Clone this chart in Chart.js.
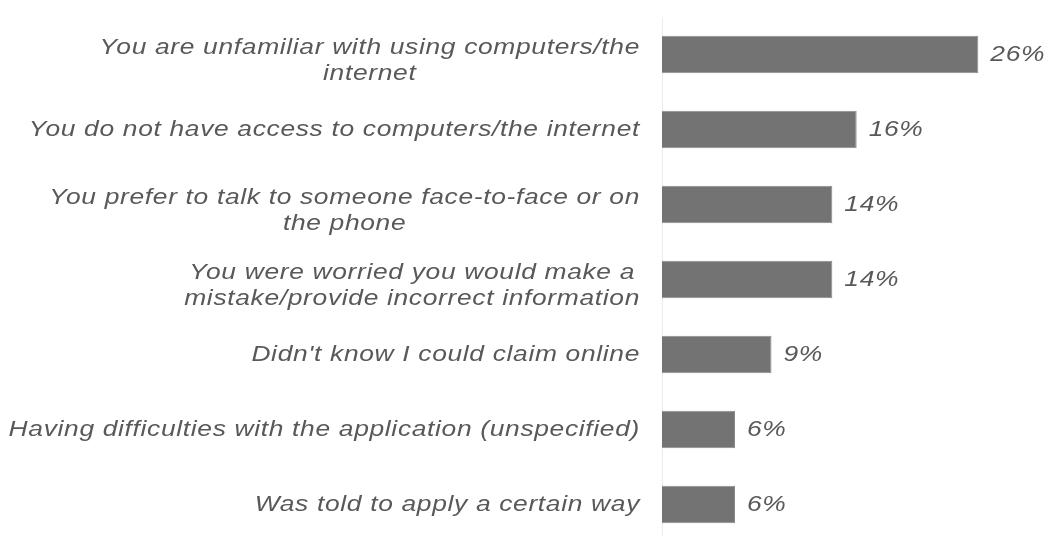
<!DOCTYPE html>
<html>
<head>
<meta charset="utf-8">
<script src="https://cdn.jsdelivr.net/npm/chart.js@4"></script>
<style>
  html, body { margin: 0; padding: 0; background: #fff; overflow: hidden; }
  #wrap { width: 1048px; height: 542px; }
</style>
</head>
<body>
<div id="wrap"><canvas id="chart" width="1048" height="542"></canvas></div>
<script>
// Категорії (рядки підписів) та значення у відсотках
const categories = [
    ['You are unfamiliar with using computers/the', 'internet'],
    ['You do not have access to computers/the internet'],
    ['You prefer to talk to someone face-to-face or on', 'the phone'],
    ['You were worried you would make a', 'mistake/provide incorrect information'],
    ["Didn't know I could claim online"],
    ['Having difficulties with the application (unspecified)'],
    ['Was told to apply a certain way']
];
const values = [26, 16, 14, 14, 9, 6, 6];
const valueLabels = ['26%', '16%', '14%', '14%', '9%', '6%', '6%'];

const TEXT_COLOR = '#595959';
const FONT = 'italic 22px "Liberation Sans", Arial, sans-serif';
const SPACING = '0.55px';
const STRETCH = 1.2;

// Малює текст з горизонтальним розтягуванням
function drawStretched(ctx, text, x, y, align) {
    const w = ctx.measureText(text).width * STRETCH;
    let left = x;
    if (align === 'center') left = x - w / 2;
    if (align === 'right') left = x - w;
    ctx.save();
    ctx.translate(left, y);
    ctx.scale(STRETCH, 1);
    ctx.textAlign = 'left';
    ctx.fillText(text, 0, 0);
    ctx.restore();
}

// Підписи категорій ліворуч від осі
const categoryLabels = {
    id: 'categoryLabels',
    afterDraw(chart) {
        const ctx = chart.ctx;
        const y = chart.scales.y;
        const right = chart.chartArea.left - 22;
        ctx.save();
        ctx.font = FONT;
        ctx.letterSpacing = SPACING;
        ctx.fillStyle = TEXT_COLOR;
        ctx.textBaseline = 'middle';
        categories.forEach((lines, i) => {
            const widths = lines.map(l => ctx.measureText(l).width * STRETCH);
            const blockW = Math.max(...widths);
            const cx = right - blockW / 2;
            const cy = y.getPixelForValue(i) + (lines.length > 1 ? 6 : 0);
            const lh = 26;
            lines.forEach((l, j) => {
                drawStretched(ctx, l, cx, cy + (j - (lines.length - 1) / 2) * lh, 'center');
            });
        });
        ctx.restore();
    }
};

// Значення біля кінця кожного стовпця
const valueTags = {
    id: 'valueTags',
    afterDatasetsDraw(chart) {
        const ctx = chart.ctx;
        const meta = chart.getDatasetMeta(0);
        ctx.save();
        ctx.font = FONT;
        ctx.letterSpacing = SPACING;
        ctx.fillStyle = TEXT_COLOR;
        ctx.textBaseline = 'middle';
        meta.data.forEach((bar, i) => {
            drawStretched(ctx, valueLabels[i], bar.x + 12, bar.y, 'left');
        });
        ctx.restore();
    }
};

new Chart(document.getElementById('chart'), {
    type: 'bar',
    data: {
        labels: categories.map(c => c.join(' ')),
        datasets: [{
            data: values,
            backgroundColor: '#737373',
            borderColor: '#8a8a8a',
            borderWidth: 1,
            categoryPercentage: 1,
            barPercentage: 0.5
        }]
    },
    options: {
        indexAxis: 'y',
        responsive: false,
        animation: false,
        layout: { padding: { top: 17, right: 21, bottom: 0, left: 0 } },
        plugins: {
            legend: { display: false },
            tooltip: { enabled: false }
        },
        scales: {
            x: { display: false, min: 0, max: 30 },
            y: {
                ticks: { display: false },
                grid: { display: false },
                border: { display: true, color: '#ececec', width: 1 },
                afterFit(scale) { scale.width = 662; }
            }
        }
    },
    plugins: [categoryLabels, valueTags]
});
</script>
</body>
</html>
